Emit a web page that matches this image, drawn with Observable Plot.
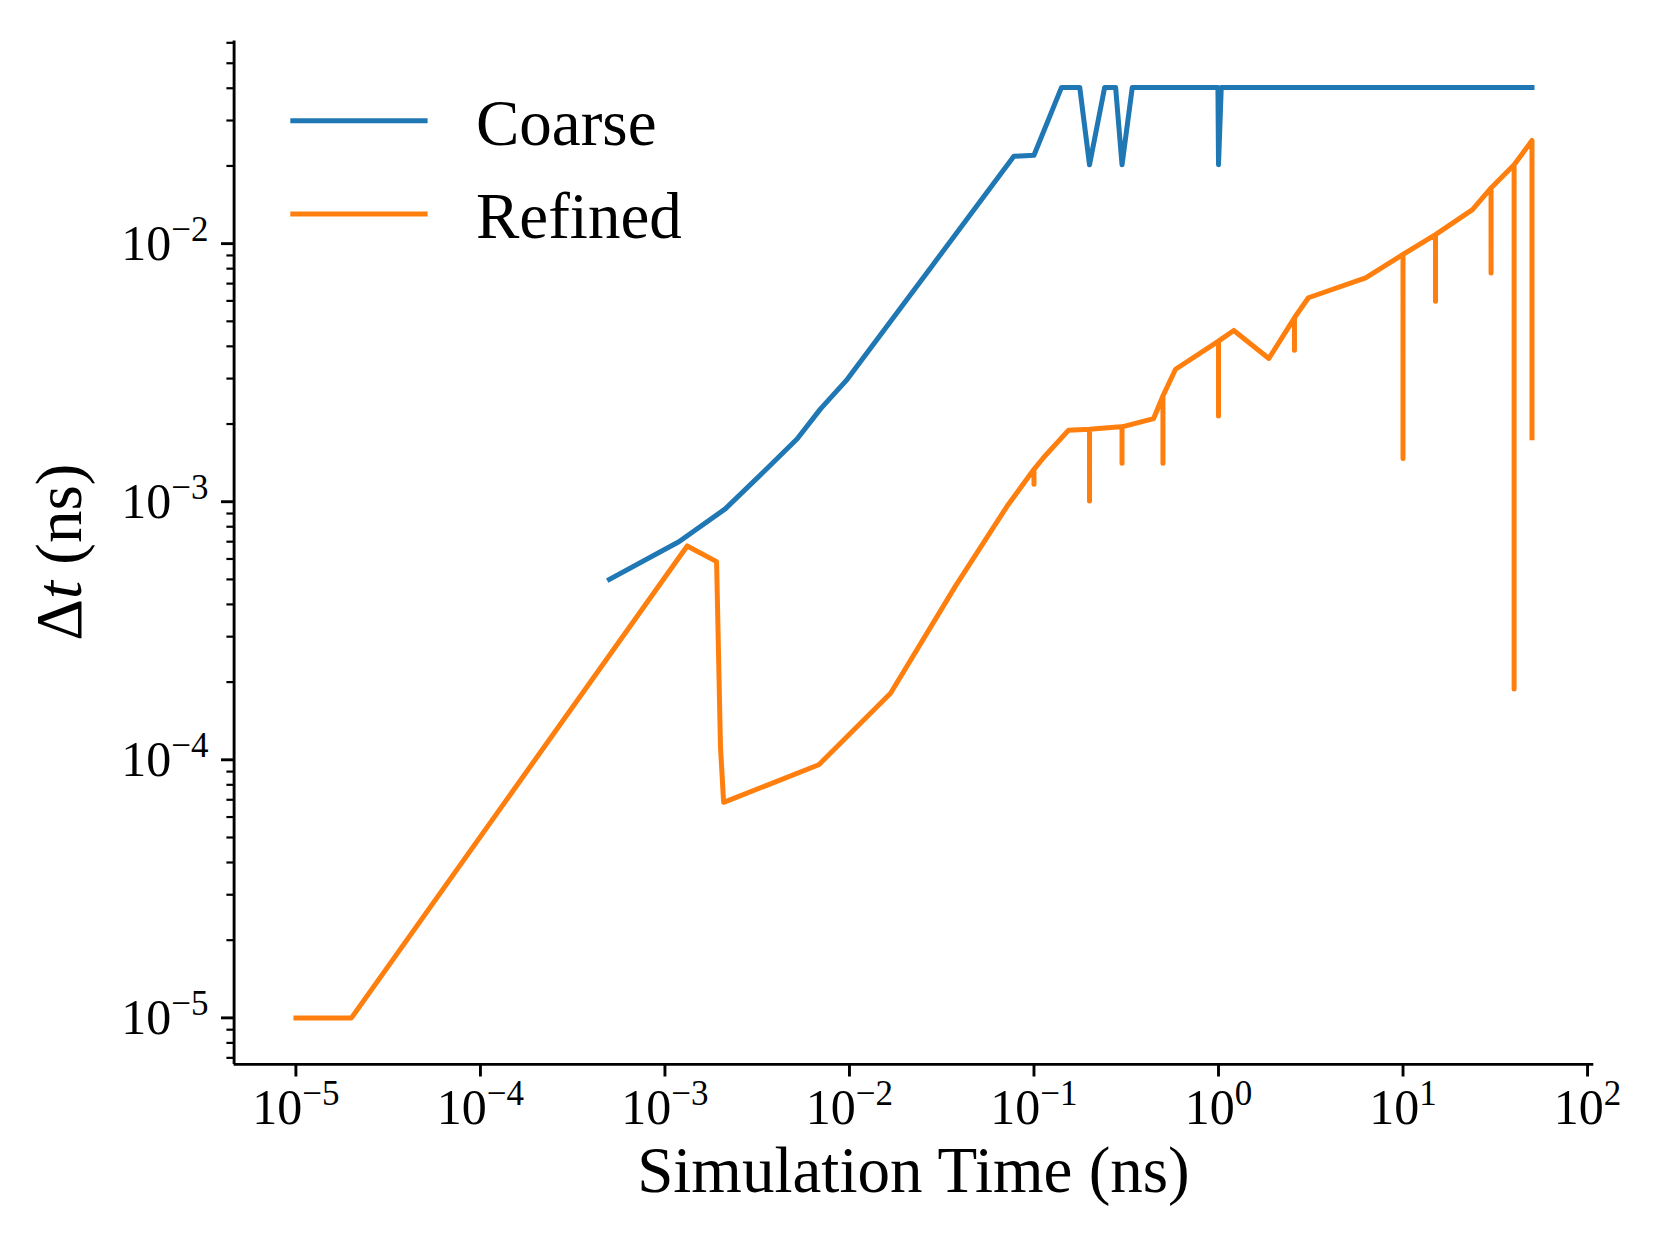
<!DOCTYPE html>
<html>
<head>
<meta charset="utf-8">
<script src="https://cdn.jsdelivr.net/npm/d3@7"></script>
<script src="https://cdn.jsdelivr.net/npm/@observablehq/plot@0.6"></script>
<style>
  html, body { margin: 0; padding: 0; background: #ffffff; }
  #chart { width: 1660px; height: 1245px; }
</style>
</head>
<body>
<div id="chart"></div>
<script>
// ---------------- data ----------------
const coarseTime = [5e-4, 1.19e-3, 2.13e-3, 3.44e-3, 5.2e-3, 6.97e-3, 9.73e-3, 0.0275, 0.0778, 0.1,
  0.141, 0.177, 0.2, 0.2415, 0.277, 0.3, 0.341, 0.993, 1.0, 1.035, 50];
const coarseDt = [5.0e-4, 7.0e-4, 9.4e-4, 1.31e-3, 1.75e-3, 2.29e-3, 2.98e-3, 8.05e-3, 0.0218, 0.022,
  0.0403, 0.0403, 0.0202, 0.0403, 0.0403, 0.0202, 0.0403, 0.0403, 0.0202, 0.0403, 0.0403];

const refinedTime = [1e-5, 2e-5, 1.32e-3, 1.905e-3, 2.0e-3, 2.08e-3, 6.82e-3, 0.0167, 0.0376, 0.0716,
  0.1, 0.1, 0.1, 0.1134, 0.1536, 0.2, 0.2, 0.2, 0.283, 0.3, 0.3, 0.3, 0.445,
  0.5, 0.5, 0.5, 0.585, 1.0, 1.0, 1.0, 1.21, 1.875, 2.58, 2.58, 2.58, 3.07, 6.27,
  10, 10, 10, 15, 15, 15, 23.8, 30, 30, 30, 40, 40, 40, 50, 50];
const refinedDt = [1e-5, 1e-5, 6.74e-4, 5.86e-4, 1.12e-4, 6.84e-5, 9.57e-5, 1.81e-4, 4.72e-4, 9.62e-4,
  1.335e-3, 1.168e-3, 1.335e-3, 1.49e-3, 1.89e-3, 1.907e-3, 1.007e-3, 1.907e-3, 1.946e-3, 1.95e-3, 1.41e-3, 1.95e-3, 2.1e-3,
  2.57e-3, 1.41e-3, 2.57e-3, 3.26e-3, 4.19e-3, 2.15e-3, 4.19e-3, 4.61e-3, 3.59e-3, 5.16e-3, 3.86e-3, 5.16e-3, 6.17e-3, 7.37e-3,
  9.08e-3, 1.47e-3, 9.08e-3, 1.084e-2, 5.98e-3, 1.084e-2, 1.355e-2, 1.643e-2, 7.7e-3, 1.643e-2, 2.02e-2, 1.88e-4, 2.02e-2, 2.51e-2, 1.77e-3];

const seriesNames = ["Coarse", "Refined"];
const seriesColors = ["#1f77b4", "#ff7f0e"];

const xTickValues = [1e-5, 1e-4, 1e-3, 1e-2, 1e-1, 1, 10, 100];
const xTickLabels = ["10^\u22125", "10^\u22124", "10^\u22123", "10^\u22122", "10^\u22121", "10^0", "10^1", "10^2"];
const yTickValues = [1e-5, 1e-4, 1e-3, 1e-2];
const yTickLabels = ["10^\u22125", "10^\u22124", "10^\u22123", "10^\u22122"];

const xTitle = "Simulation Time (ns)";
const yTitleParts = ["\u0394", "t", " (ns)"];

// ---------------- build ----------------
const coarse = coarseTime.map((t, i) => ({t, dt: coarseDt[i]}));
const refined = refinedTime.map((t, i) => ({t, dt: refinedDt[i]}));

const W = 1660, H = 1245;
const mL = 233.6, mR = 66.7, mT = 40.4, mB = 181.1;

// matplotlib-style autoscale: 5% padding in log space
function logDomain(values) {
  const [lo, hi] = d3.extent(values).map(Math.log10);
  const pad = 0.05 * (hi - lo);
  return [10 ** (lo - pad), 10 ** (hi + pad)];
}
const xDomain = logDomain([...coarseTime, ...refinedTime]);
const yDomain = logDomain([...coarseDt, ...refinedDt]);

const yMinor = [];
for (let e = -7; e <= 0; e++) for (let m = 2; m <= 9; m++) {
  const v = m * 10 ** e;
  if (v >= yDomain[0] && v <= yDomain[1]) yMinor.push(v);
}

const FONT = "'Liberation Serif', 'Times New Roman', serif";
const tickFs = 50, supFs = 35, supShift = -19, titleFs = 65;
const lw = 5;

const svg = Plot.plot({
  width: W, height: H,
  marginLeft: mL, marginRight: mR, marginTop: mT, marginBottom: mB,
  style: {background: "#ffffff", fontFamily: FONT, fontSize: tickFs + "px", color: "#000000"},
  x: {type: "log", domain: xDomain},
  y: {type: "log", domain: yDomain},
  marks: [
    Plot.axisY(yMinor, {anchor: "left", tickSize: 7.2, strokeWidth: 2.2, tickFormat: () => "", label: null}),
    Plot.axisY(yTickValues, {anchor: "left", tickSize: 12.6, tickPadding: 13, strokeWidth: 2.9,
      tickFormat: d => yTickLabels[yTickValues.indexOf(d)], fontSize: tickFs, label: null}),
    Plot.axisX(xTickValues, {anchor: "bottom", tickSize: 12.6, tickPadding: 11.3, strokeWidth: 2.9,
      tickFormat: d => xTickLabels[xTickValues.indexOf(d)], fontSize: tickFs, label: null}),
    Plot.ruleX([xDomain[0]], {stroke: "#000", strokeWidth: 2.9}),
    Plot.ruleY([yDomain[0]], {stroke: "#000", strokeWidth: 2.9}),
    Plot.line(coarse, {x: "t", y: "dt", stroke: seriesColors[0], strokeWidth: lw,
      strokeLinejoin: "round", strokeLinecap: "square"}),
    Plot.line(refined, {x: "t", y: "dt", stroke: seriesColors[1], strokeWidth: lw,
      strokeLinejoin: "round", strokeLinecap: "square"})
  ]
});

// superscript tick labels
d3.select(svg).selectAll('g[aria-label="x-axis tick label"] text, g[aria-label="y-axis tick label"] text')
  .each(function () {
    const s = this.textContent;
    if (!s || s.indexOf("^") < 0) return;
    const [base, exp] = s.split("^");
    const t = d3.select(this);
    t.text(null);
    t.append("tspan").text(base);
    t.append("tspan").attr("font-size", supFs).attr("dy", supShift).text(exp);
  });

const root = d3.select(svg);
// axis titles
root.append("text")
  .attr("x", (mL + W - mR) / 2).attr("y", 1192)
  .attr("text-anchor", "middle").attr("font-family", FONT).attr("font-size", titleFs)
  .attr("fill", "#000").text(xTitle);
const yt = root.append("text")
  .attr("transform", `translate(81,${(mT + H - mB) / 2}) rotate(-90)`)
  .attr("text-anchor", "middle").attr("font-family", FONT).attr("font-size", titleFs).attr("fill", "#000");
yt.append("tspan").text(yTitleParts[0]);
yt.append("tspan").attr("font-style", "italic").text(yTitleParts[1]);
yt.append("tspan").text(yTitleParts[2]);

// legend
const leg = root.append("g");
const legY = [120.8, 214];
const legTextY = [144.5, 237.5];
seriesNames.forEach((name, i) => {
  leg.append("line").attr("x1", 290.3).attr("x2", 427.6).attr("y1", legY[i]).attr("y2", legY[i])
    .attr("stroke", seriesColors[i]).attr("stroke-width", lw).attr("stroke-linecap", "butt");
  leg.append("text").attr("x", 476).attr("y", legTextY[i]).attr("font-family", FONT)
    .attr("text-anchor", "start")
    .attr("font-size", titleFs).attr("fill", "#000").text(name);
});

document.getElementById("chart").appendChild(svg);
</script>
</body>
</html>
